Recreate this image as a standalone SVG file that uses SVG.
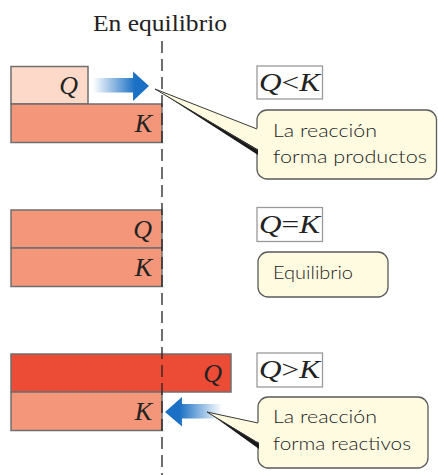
<svg xmlns="http://www.w3.org/2000/svg" width="438" height="475" viewBox="0 0 438 475">
<style>
.bar{stroke:#6f6f6f;stroke-width:1.5}
.lt{fill:#fcd9c8}
.md{fill:#f49679}
.dk{fill:#ec4c36}
.var{font-family:"Liberation Serif",serif;font-style:italic;font-size:26px;fill:#222}
.eqb{fill:#fff;stroke:#9a9a9a;stroke-width:1.3}
.eq{font-family:"Liberation Serif",serif;font-size:26px;fill:#222}
.cb{fill:#fffbe1;stroke:#5a5a5a;stroke-width:1.3}
.ct{font-family:Lato,"Open Sans",sans-serif;font-size:18.5px;font-weight:300;fill:#222}
.pe{stroke:#3a3a3a;stroke-width:1;fill:none}
.sh{fill:#1a1a1a}
</style>
<defs>
<linearGradient id="gR" x1="0" y1="0" x2="1" y2="0">
<stop offset="0" stop-color="#1a70c4" stop-opacity="0"/>
<stop offset="0.75" stop-color="#1a70c4"/>
<stop offset="1" stop-color="#1a70c4"/>
</linearGradient>
<linearGradient id="gL" x1="1" y1="0" x2="0" y2="0">
<stop offset="0" stop-color="#1a70c4" stop-opacity="0"/>
<stop offset="0.75" stop-color="#1a70c4"/>
<stop offset="1" stop-color="#1a70c4"/>
</linearGradient>
</defs>

<text x="160" y="31" text-anchor="middle" font-family="Liberation Serif, serif" font-size="23" fill="#222" textLength="134" lengthAdjust="spacingAndGlyphs">En equilibrio</text>

<g id="row1">
<rect class="bar lt" x="11" y="66.5" width="77" height="37.5"/>
<rect class="bar md" x="11" y="104" width="151" height="38.5"/>
<text class="var" x="78" y="94" text-anchor="end">Q</text>
<text class="var" x="152" y="132" text-anchor="end">K</text>
</g>
<g id="row2">
<rect class="bar md" x="11" y="210" width="151" height="38"/>
<rect class="bar md" x="11" y="248" width="151" height="38.5"/>
<text class="var" x="152" y="238" text-anchor="end">Q</text>
<text class="var" x="152" y="276" text-anchor="end">K</text>
</g>
<g id="row3">
<rect class="bar dk" x="11" y="354" width="220" height="38"/>
<rect class="bar md" x="11" y="392" width="151" height="38.5"/>
<text class="var" x="222" y="382" text-anchor="end">Q</text>
<text class="var" x="152" y="420" text-anchor="end">K</text>
</g>

<g id="connectors">
<line x1="162" y1="41" x2="162" y2="475" stroke="#222" stroke-width="1.3" stroke-dasharray="12,6"/>
<path d="M93,78 L133,78 L133,71.5 L149,86 L133,101 L133,92.5 L93,92.5 Z" fill="url(#gR)"/>
<path d="M222,404 L182,404 L182,397 L165,412 L182,426.5 L182,418.5 L222,418.5 Z" fill="url(#gL)"/>
</g>

<g id="eq1">
<rect class="eqb" x="257" y="66" width="65.5" height="33"/>
<text class="eq" x="259" y="91" textLength="61" lengthAdjust="spacingAndGlyphs"><tspan font-style="italic">Q</tspan>&lt;<tspan font-style="italic">K</tspan></text>
</g>
<g id="eq2">
<rect class="eqb" x="257" y="207.5" width="65.5" height="34"/>
<text class="eq" x="259" y="233" textLength="61" lengthAdjust="spacingAndGlyphs"><tspan font-style="italic">Q</tspan>=<tspan font-style="italic">K</tspan></text>
</g>
<g id="eq3">
<rect class="eqb" x="257" y="353" width="65.5" height="34"/>
<text class="eq" x="259" y="378" textLength="61" lengthAdjust="spacingAndGlyphs"><tspan font-style="italic">Q</tspan>&gt;<tspan font-style="italic">K</tspan></text>
</g>

<g id="callout1">
<rect class="cb" x="257" y="110" width="179.5" height="69" rx="10"/>
<polygon class="sh" points="157,90 258,149 258,155"/>
<polygon points="155,89 259,129 259,150" fill="#fffbe1"/>
<polyline class="pe" points="257,129 155,89 257,150"/>
<text class="ct" x="273" y="137" textLength="104" lengthAdjust="spacingAndGlyphs">La reacción</text>
<text class="ct" x="273" y="163" textLength="154" lengthAdjust="spacingAndGlyphs">forma productos</text>
</g>
<g id="callout2">
<rect class="cb" x="258" y="252" width="130" height="45" rx="10"/>
<text class="ct" x="273" y="279" textLength="80" lengthAdjust="spacingAndGlyphs">Equilibrio</text>
</g>
<g id="callout3">
<rect class="cb" x="258" y="397" width="170" height="71" rx="10"/>
<polygon class="sh" points="209,413 259,443 259,449"/>
<polygon points="207,412 260,423 260,443" fill="#fffbe1"/>
<polyline class="pe" points="258,423 207,412 258,443"/>
<text class="ct" x="273" y="423" textLength="104" lengthAdjust="spacingAndGlyphs">La reacción</text>
<text class="ct" x="273" y="450" textLength="138" lengthAdjust="spacingAndGlyphs">forma reactivos</text>
</g>
</svg>
